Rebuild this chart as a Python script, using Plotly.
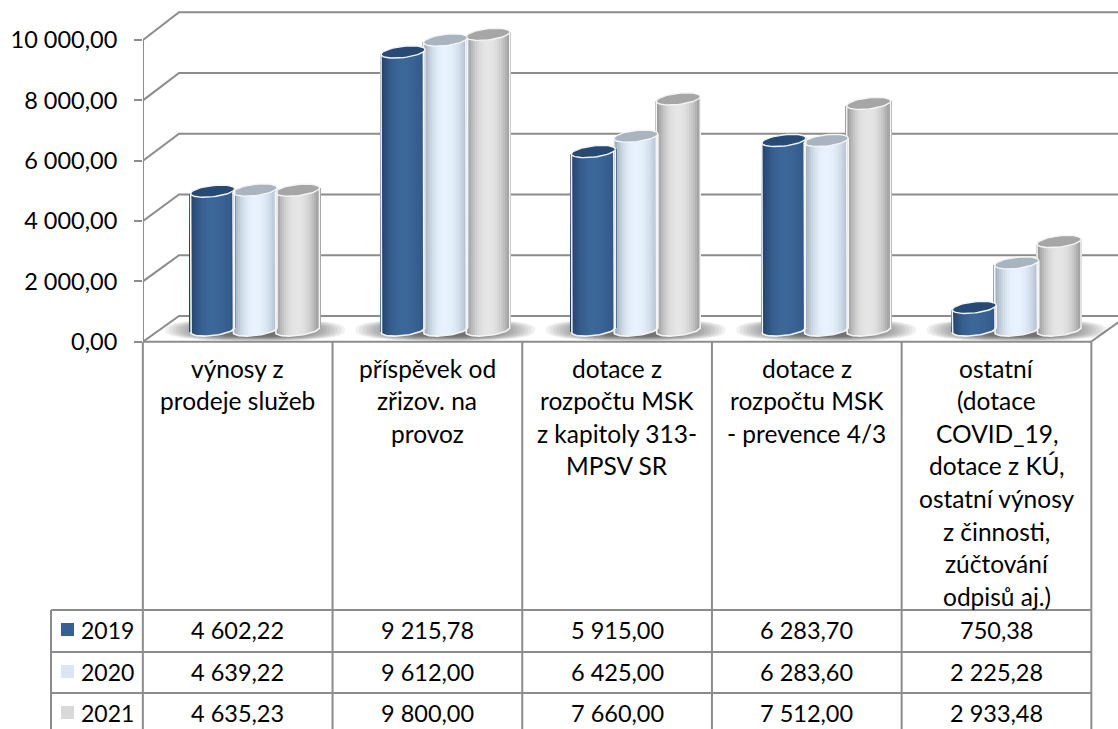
import numpy as np
import plotly.graph_objects as go

years = ["2019", "2020", "2021"]
values_2019 = [4602.22, 9215.78, 5915.00, 6283.70, 750.38]
values_2020 = [4639.22, 9612.00, 6425.00, 6283.60, 2225.28]
values_2021 = [4635.23, 9800.00, 7660.00, 7512.00, 2933.48]
category_lines = [
    ["výnosy z", "prodeje služeb"],
    ["příspěvek od", "zřizov. na", "provoz"],
    ["dotace z", "rozpočtu MSK", "z kapitoly 313-", "MPSV SR"],
    ["dotace z", "rozpočtu MSK", "- prevence 4/3"],
    ["ostatní", "(dotace", "COVID_19,", "dotace z KÚ,", "ostatní výnosy", "z činnosti,", "zúčtování", "odpisů aj.)"],
]
y_ticks = [0, 2000, 4000, 6000, 8000, 10000]

series = [values_2019, values_2020, values_2021]
W, H = 1118, 729
L, B_PX = 143, 350
GRID = "#8c8c8c"
FONT = "Lato"
FS = 23.5
FS_CAT = 24.5

PY = 0.03017          # px per value unit
Y0_PX, BAR0_PX = 341.7, 330.0
CELL = 189.7; CELL0 = 237.7
PITCH = 190.4; GROUP0 = 255.0
BAR_PITCH = 42.4; A = 22.0; BE = 5.6; K = 2.4 / 22
DX, DY = 36.0, 25.7
WALL_SCALE = 1.0066

y_val = lambda px: (Y0_PX - px) / PY
y2_val = lambda px: (BAR0_PX - px) / PY
x_val = lambda px: (px - CELL0) / CELL
x2_val = lambda px: (px - GROUP0) / PITCH
px2x, px2y = 1 / PITCH, 1 / PY
xpaper = lambda px: (px - L) / (W - L)
ypaper = lambda px: (B_PX - px) / B_PX

edge_colors = [((34, 64, 104), (46, 84, 130)), ((150, 162, 176), (172, 184, 202)), ((140, 140, 140), (150, 150, 150))]
mid_colors = [(60, 103, 153), (232, 243, 255), (230, 230, 230)]
cap_colors = ["#274a75", "#a8b4c0", "#a6a6a6"]
key_colors = ["#376092", "#dce6f2", "#d9d9d9"]

fig = go.Figure()

# back wall, floor and axis
xl, xr = x_val(L), x_val(1091)
xb = x_val(L + DX); xe = x_val(W + 20)
dy = DY / PY
wx, wy = [], []
for t in y_ticks:
    wx += [xl, xb, xe, None]
    wy += [t, t * WALL_SCALE + dy, t * WALL_SCALE + dy, None]
wx += [xr, x_val(1091 + DX), None, xl, xl, None, xl, xr]
wy += [0, dy, None, 0, y_ticks[-1], None, 0, 0]
fig.add_trace(go.Scatter(x=wx, y=wy, mode="lines", line=dict(color=GRID, width=2), cliponaxis=False,
                         hoverinfo="skip", showlegend=False))

# floor shadows
tt = np.linspace(0, 2 * np.pi, 80)
for g in range(len(category_lines)):
    cx = GROUP0 + PITCH * g
    for f in np.linspace(1, 0.4, 16):
        ex = np.sign(np.cos(tt)) * np.abs(np.cos(tt)) ** 0.75
        ey = np.sign(np.sin(tt)) * np.abs(np.sin(tt)) ** 0.75
        fig.add_trace(go.Scatter(
            x=x_val(cx + 90 * f * ex), y=y_val(330 + 11 * (0.35 + 0.65 * f) * ey),
            mode="lines", line=dict(width=0), fill="toself", fillcolor="rgba(60,60,60,0.07)",
            hoverinfo="skip", showlegend=False))

# cylinders, last series first so that the first stays in front
N = 23
strip = np.linspace(-1, 1, N)
strip_w = 2 * A / (N - 1)
for s in [2, 1, 0]:
    vals = series[s]
    xs, ys, bases, cols = [], [], [], []
    left, right = edge_colors[s]
    mid = mid_colors[s]
    for g, v in enumerate(vals):
        cx = g + (s - 1) * BAR_PITCH * px2x
        for u in strip:
            xs.append(cx + u * A * px2x)
            low = -(BE * np.sqrt(max(1 - u * u, 0)) - K * A * u) * px2y
            top = v + K * A * u * px2y
            bases.append(low)
            ys.append(top - low)
            edge = left if u < 0 else right
            w = 1 - abs(u) ** 2.2
            cols.append("rgb(%d,%d,%d)" % tuple(int(edge[i] + (mid[i] - edge[i]) * w) for i in range(3)))
    fig.add_trace(go.Bar(x=xs, y=ys, base=bases, width=strip_w * px2x * 1.25, xaxis="x2", yaxis="y2",
                         marker=dict(color=cols, line=dict(width=0)), hoverinfo="skip", showlegend=False))

t_low = np.linspace(np.pi, 2 * np.pi, 30)
t_all = np.linspace(0, 2 * np.pi, 50)
for s in [2, 1, 0]:
    vals = series[s]
    rx, ry, cxs, cys = [], [], [], []
    for g, v in enumerate(vals):
        cx = g + (s - 1) * BAR_PITCH * px2x
        bx = cx + A * np.cos(t_low) * px2x
        by = (BE * np.sin(t_low) + K * A * np.cos(t_low)) * px2y
        rx += [cx - A * px2x] + list(bx) + [cx + A * px2x, None]
        ry += [v - K * A * px2y] + list(by) + [v + K * A * px2y, None]
        cxs += list(cx + A * np.cos(t_all) * px2x) + [None]
        cys += list(v + (BE * np.sin(t_all) + K * A * np.cos(t_all)) * px2y) + [None]
    fig.add_trace(go.Scatter(x=rx, y=ry, mode="lines", xaxis="x2", yaxis="y2",
                             line=dict(color="#f4f4f4", width=1.6), hoverinfo="skip", showlegend=False))
    fig.add_trace(go.Scatter(x=cxs, y=cys, mode="lines", xaxis="x2", yaxis="y2", fill="toself",
                             fillcolor=cap_colors[s], line=dict(color="#f4f4f4", width=1.4),
                             hoverinfo="skip", showlegend=False))

# data table
shapes = []
def seg(x0, y0, x1, y1):
    shapes.append(dict(type="line", xref="paper", yref="paper", x0=xpaper(x0), x1=xpaper(x1),
                       y0=ypaper(y0), y1=ypaper(y1), line=dict(color=GRID, width=2)))

ROWS = [630, 672, 713]
cell_edges = [CELL0 + CELL * (i - 0.5) for i in range(len(category_lines) + 1)]
for e in cell_edges:
    seg(e, 342, e, H + 4)
seg(51, 610, 51, H + 4)
for r in [610, 652, 693]:
    seg(51, r, cell_edges[-1], r)

ann = []
def txt(x, y, text, anchor="center", size=FS):
    ann.append(dict(xref="paper", yref="paper", x=xpaper(x), y=ypaper(y), text=text, showarrow=False,
                    xanchor=anchor, yanchor="middle", font=dict(family=FONT, size=size, color="#000000")))

for i, lines in enumerate(category_lines):
    for j, line in enumerate(lines):
        txt(CELL0 + CELL * i, 368 + 32.6 * j, line, size=FS_CAT)
for s, row in enumerate(ROWS):
    txt(79, row, years[s], "left", size=23)
    shapes.append(dict(type="rect", xref="paper", yref="paper", x0=xpaper(61), x1=xpaper(74),
                       y0=ypaper(row - 7), y1=ypaper(row + 6), fillcolor=key_colors[s], line=dict(width=0)))
    for i, v in enumerate(series[s]):
        txt(CELL0 + CELL * i, row, f"{v:,.2f}".replace(",", " ").replace(".", ","))

fig.update_layout(
    width=W, height=H, autosize=False, barmode="overlay", bargap=0,
    paper_bgcolor="#ffffff", plot_bgcolor="#ffffff", showlegend=False,
    margin=dict(l=L, r=0, t=0, b=H - B_PX, pad=0), separators=", ",
    font=dict(family=FONT, size=FS, color="#000000"),
    shapes=shapes, annotations=ann,
    xaxis=dict(range=[x_val(L), x_val(W)], visible=False, fixedrange=True),
    yaxis=dict(range=[y_val(B_PX), y_val(0)], tickvals=y_ticks, tickformat=",.2f", showgrid=False, zeroline=False,
               showline=False, ticks="outside", ticklen=8, tickwidth=2, tickcolor=GRID, ticklabelstandoff=12,
               tickfont=dict(family=FONT, size=FS, color="#000000"), fixedrange=True),
    xaxis2=dict(range=[x2_val(L), x2_val(W)], overlaying="x", visible=False, fixedrange=True),
    yaxis2=dict(range=[y2_val(B_PX), y2_val(0)], overlaying="y", visible=False, fixedrange=True),
)
fig.write_html("out.html", post_script="document.body.style.margin='0';", config={"displayModeBar": False})
